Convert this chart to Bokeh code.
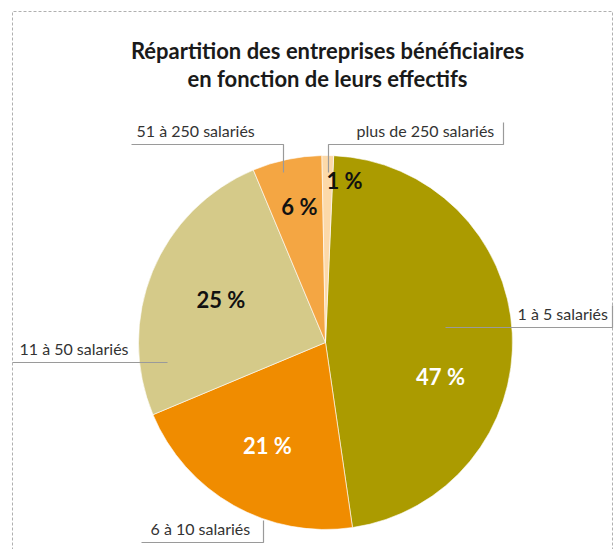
import math
from bokeh.plotting import figure
from bokeh.models import Range1d, ColumnDataSource
from bokeh.core.properties import value
from bokeh.embed import file_html
from bokeh.resources import INLINE

# ---- data ----
categories = ["1 à 5 salariés", "6 à 10 salariés", "11 à 50 salariés",
              "51 à 250 salariés", "plus de 250 salariés"]
shares = [47, 21, 25, 6, 1]
pct_labels = ["47 %", "21 %", "25 %", "6 %", "1 %"]
colors = ["#ab9b00", "#f08c00", "#d5ca89", "#f4a643", "#fcd9a9"]
pct_text_colors = ["white", "white", "#111111", "#111111", "#111111"]

title_lines = ["Répartition des entreprises bénéficiaires",
               "en fonction de leurs effectifs"]

# ---- layout (pixel space, y measured from the top) ----
W, H = 616, 549
CX, CY, R = 325, 342, 187
START_DEG = 87.5  # angle of first slice's start (math convention)
label_r = [120, 118, 113, 138, 163]
label_dang = [-19.5, 0, 0, -1, -6]

cat_label_pos = [(517, 313, "left"), (150, 528, "left"), (19, 348, "left"),
                 (136, 130, "left"), (356, 130, "left")]
leaders = [
    [(445, 327), (612, 327), (612, 305)],
    [(141, 542), (263, 542), (263, 520)],
    [(12, 362), (167, 362)],
    [(131, 144), (283, 144), (283, 172)],
    [(503, 122), (503, 144), (328, 144), (328, 172)],
]


def Y(py):
    return H - py


p = figure(width=W, height=H, output_backend="svg", toolbar_location=None,
           x_range=Range1d(0, W), y_range=Range1d(0, H), min_border=0)
p.axis.visible = False
p.grid.visible = False
p.outline_line_color = None
p.background_fill_color = "white"
p.border_fill_color = "white"

# frame
p.line([12, 12, 612, 612], [Y(560), Y(11), Y(11), Y(560)], line_color="#b0b0b0",
       line_width=1, line_dash="3 2")

# wedges
total = sum(shares)
starts, ends, mids = [], [], []
cum = 0.0
for s in shares:
    a0 = math.radians(START_DEG - 360.0 * (cum + s) / total)
    a1 = math.radians(START_DEG - 360.0 * cum / total)
    starts.append(a0)
    ends.append(a1)
    mids.append((a0 + a1) / 2)
    cum += s

src = ColumnDataSource(dict(start=starts, end=ends, color=colors, cat=categories, share=shares))
p.wedge(x=CX, y=Y(CY), radius=R, start_angle="start", end_angle="end",
        fill_color="color", line_color="white", line_width=0.6, source=src)

# percentage labels
lx, ly = [], []
for m, r, d in zip(mids, label_r, label_dang):
    a = m + math.radians(d)
    lx.append(CX + r * math.cos(a))
    ly.append(Y(CY) + r * math.sin(a))
p.text(x=lx, y=ly, text=pct_labels, text_color=pct_text_colors,
       text_font=value("Lato"), text_font_style="bold", text_font_size="22px",
       text_align="center", text_baseline="middle")

# leader lines
for pts in leaders:
    p.line([q[0] for q in pts], [Y(q[1]) for q in pts], line_color="#9a9a9a", line_width=1.2)

# category labels
for name, (x, y, al) in zip(categories, cat_label_pos):
    p.text(x=[x], y=[Y(y)], text=[name], text_color="#333333",
           text_font=value("Lato"), text_font_size="16px",
           text_align=al, text_baseline="middle")

# title
for i, t in enumerate(title_lines):
    p.text(x=[W / 2 + 19], y=[Y(50 + 28 * i)], text=[t], text_color="#1a1a1a",
           text_font=value("Lato"), text_font_style="bold", text_font_size="22px",
           text_align="center", text_baseline="middle")

open("out.html", "w").write(file_html(p, INLINE))
